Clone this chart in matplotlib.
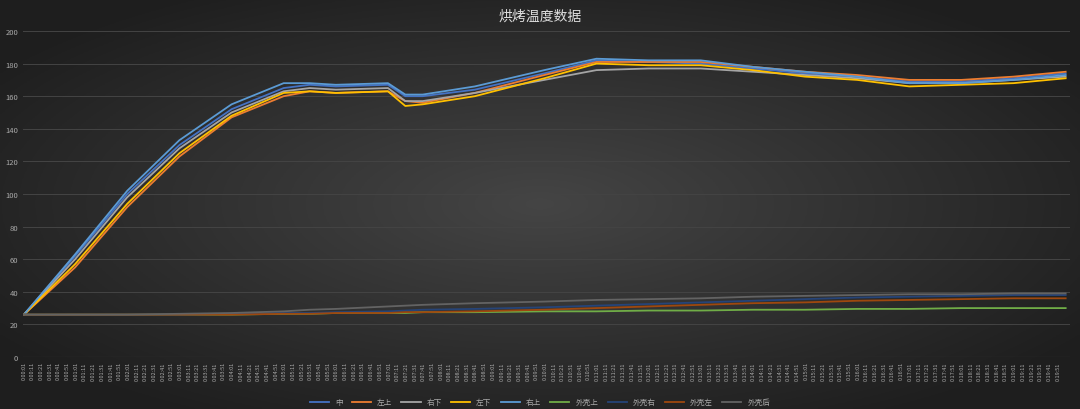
import numpy as np
import matplotlib.pyplot as plt

plt.rcParams['font.family'] = ['Noto Sans CJK SC', 'DejaVu Sans']

# time in seconds
t = [1, 60, 120, 180, 240, 300, 330, 360, 420, 440, 460, 520, 600, 660, 720, 780, 840, 900, 960, 1020, 1080, 1140, 1200]
zhong     = [26, 62, 100, 130, 152, 165, 167, 166, 167, 160, 160, 164, 174, 182, 181, 180, 177, 174, 172, 169, 169, 171, 174]
zuoshang  = [26, 55, 92, 123, 147, 160, 163, 162, 163, 157, 156, 162, 173, 181, 181, 181, 178, 175, 173, 170, 170, 172, 175]
youxia    = [26, 60, 98, 128, 150, 163, 165, 164, 165, 157, 157, 162, 170, 176, 177, 177, 175, 173, 171, 168, 168, 170, 172]
zuoxia    = [26, 57, 94, 125, 148, 162, 163, 162, 163, 154, 155, 160, 171, 180, 179, 179, 176, 172, 170, 166, 167, 168, 171]
youshang  = [26, 63, 102, 133, 155, 168, 168, 167, 168, 161, 161, 166, 176, 183, 182, 182, 178, 175, 172, 168, 168, 170, 173]
ke_shang  = [26, 26, 26, 26, 26, 26.5, 26.5, 27, 27, 27, 27.5, 27.5, 28, 28, 28.5, 28.5, 29, 29, 29.5, 29.5, 30, 30, 30]
ke_you    = [26, 26, 26, 26, 26.5, 27, 27, 27.5, 28, 28.5, 29, 29.5, 30.5, 31.5, 32.5, 33.5, 34.5, 35.5, 36.5, 37, 37.5, 38, 38]
ke_zuo    = [26, 26, 26, 26, 26, 26.5, 26.5, 27, 27, 27.5, 27.5, 28, 29, 30, 31, 32, 33, 33.5, 34.5, 35, 35.5, 36, 36]
ke_hou    = [26, 26, 26, 26.5, 27, 28, 29, 29.5, 31, 31.5, 32, 33, 34, 35, 35.5, 36, 37, 37.5, 38, 38.5, 38.5, 39, 39]

series = [
    ('中', zhong, '#4472C4'),
    ('左上', zuoshang, '#ED7D31'),
    ('右下', youxia, '#A5A5A5'),
    ('左下', zuoxia, '#FFC000'),
    ('右上', youshang, '#5B9BD5'),
    ('外壳上', ke_shang, '#70AD47'),
    ('外壳右', ke_you, '#264478'),
    ('外壳左', ke_zuo, '#9E480E'),
    ('外壳后', ke_hou, '#636363'),
]

tick_sec = list(range(1, 1200, 10))
tick_labels = [f"{s // 3600}:{(s % 3600) // 60:02d}:{s % 60:02d}" for s in tick_sec]

fig = plt.figure(figsize=(10.8, 4.1), dpi=100)
fig.patch.set_facecolor('#222222')

# radial dark background
bg = fig.add_axes([0, 0, 1, 1], zorder=-1)
yy, xx = np.mgrid[-1:1:200j, -1:1:400j]
r = np.clip(np.sqrt(xx ** 2 + yy ** 2), 0, 1.2) / 1.2
shade = 0.27 - 0.15 * r
bg.imshow(np.dstack([shade] * 3), aspect='auto', extent=[0, 1, 0, 1])
bg.axis('off')

ax = fig.add_axes([23 / 1080, 1 - 358 / 410, 1047 / 1080, 326 / 410])
ax.patch.set_alpha(0)
for name, vals, c in series:
    ax.plot(t, vals, color=c, lw=1.3, label=name)

ax.set_xlim(0, 1205)
ax.set_ylim(0, 200)
ax.set_yticks(range(0, 201, 20))
ax.set_xticks(tick_sec)
ax.set_xticklabels(tick_labels, rotation=90, fontsize=4, color='#aaaaaa')
ax.tick_params(axis='y', labelsize=5.5, colors='#aaaaaa', length=0)
ax.tick_params(axis='x', length=0, pad=3)
ax.grid(axis='y', color='#444444', lw=0.7)
for s in ax.spines.values():
    s.set_visible(False)
ax.axhline(0, color='#4a4a4a', lw=0.8)

fig.text(0.5, 0.96, '烘烤温度数据', ha='center', va='center', color='#dddddd', fontsize=10)
fig.legend(loc='lower center', ncol=9, frameon=False, fontsize=5.5, labelcolor='#aaaaaa',
           bbox_to_anchor=(0.5, -0.01), handlelength=2.5, columnspacing=1.2)

fig.savefig('out.png', dpi=100, facecolor=fig.get_facecolor())
